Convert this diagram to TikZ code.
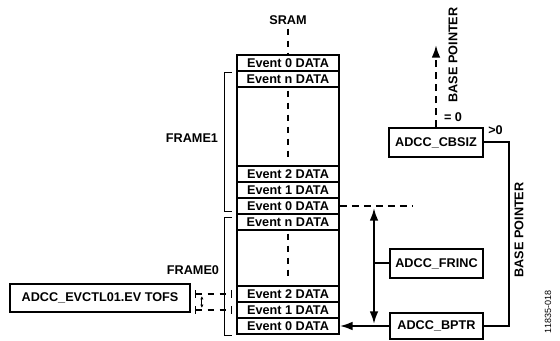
\documentclass[tikz,border=0pt]{standalone}
\usepackage{fontspec}
\setmainfont{Liberation Sans}
\usepackage{tikz}
\usetikzlibrary{arrows.meta}
\tikzset{>={Latex[length=9.5pt,width=6.5pt]}}
\newcommand{\dfont}{\fontsize{9.5pt}{11pt}\selectfont\bfseries}
\newcommand{\tagfont}{\fontsize{6.75pt}{8pt}\selectfont}
\tikzset{
	cell/.style={draw, line width=1.3pt, minimum width=76.5pt, minimum height=12pt, inner sep=0pt, font=\dfont},
	regbox/.style={draw, line width=1.3pt, minimum width=70pt, minimum height=21.75pt, inner sep=0pt, font=\dfont},
	lbl/.style={font=\dfont, inner sep=0pt},
	dline/.style={line width=1.5pt, dash pattern=on 5pt off 4pt},
	sline/.style={line width=1.5pt},
	brk/.style={line width=0.8pt},
	tick/.style={{Bar[width=6pt,line width=0.8pt]}-{Bar[width=6pt,line width=0.8pt]}}
}

\begin{document}
\begin{tikzpicture}[x=0.75pt,y=-0.75pt]
	\useasboundingbox (0,0) rectangle (560,341);

	% memory column
	\node[lbl] (sram) at (288,20) {SRAM};
	\node[draw, line width=1.6pt, minimum width=76.5pt, minimum height=209.25pt, inner sep=0pt] (col) at (288,194.5) {};
	\foreach \y/\nm/\t in {63/top0/0, 79/f1n/n, 174/f1e2/2, 190/f1e1/1, 206/f1e0/0,
			222/f0n/n, 294/f0e2/2, 310/f0e1/1, 326/f0e0/0}
		\node[cell] (\nm) at (288,\y) {Event \t\ DATA};

	\draw[dline, shorten <=3pt] (sram.south) -- (top0.north);
	\draw[dline, shorten <=2pt, shorten >=4pt] (f1n.south) -- (f1e2.north);
	\draw[dline, shorten <=2pt, shorten >=4pt] (f0n.south) -- (f0e2.north);

	% frame brackets
	\draw[brk] ([shift={(-4,2)}]f1n.north west) -- ++(-8,0) |- ([shift={(-4,-3)}]f1e0.south west);
	\draw[brk] ([shift={(-4,4)}]f0n.north west) -- ++(-8,0) |- ([shift={(-4,1)}]f0e0.south west);
	\node[lbl] (frame1) at (192,138) {FRAME1};
	\node[lbl] (frame0) at (193,270) {FRAME0};

	% event offset
	\node[regbox, minimum width=135pt, minimum height=21pt] (tofs) at (100,298) {ADCC\_EVCTL01.EV TOFS};
	\coordinate (tk) at ([xshift=3pt]tofs.east);
	\coordinate (u2) at (tk |- f0e2.west);
	\coordinate (u1) at (tk |- f0e1.west);
	\draw[dline, tick] (u2) -- ([xshift=-3pt]f0e2.west);
	\draw[dline, tick] (u1) -- ([xshift=-3pt]f0e1.west);
	\draw[{Latex[length=2.5pt,width=2.5pt]}-{Latex[length=2.5pt,width=2.5pt]}, line width=0.7pt]
		([shift={(7,2)}]u2) -- ([shift={(7,-2)}]u1);

	% registers
	\node[regbox, minimum width=70.5pt] (cbsiz) at (436,142.5) {ADCC\_CBSIZ};
	\node[regbox] (frinc) at (436.5,263.5) {ADCC\_FRINC};
	\node[regbox, minimum height=20pt] (bptr) at (436.5,326) {ADCC\_BPTR};

	\draw[dline] (f1e0.east) -- ++(73,0);
	\coordinate (fr) at (374,0);
	\draw[<->, sline, shorten <=1.5pt, shorten >=1.5pt] (fr |- f1e0.east) -- (fr |- bptr.west);
	\draw[sline] (fr |- frinc.west) -- (frinc.west);
	\draw[->, sline] (bptr.west) -- (f0e0.east);

	\draw[sline] (cbsiz.east) -- ++(25,0) |- (bptr.east);
	\node[lbl, anchor=base west] (gt) at (488,135) {>0};
	\node[lbl, rotate=90] (bp2) at (519,230) {BASE POINTER};

	\coordinate (bpup) at (0,45);
	\draw[dline, ->] (cbsiz.north) -- (cbsiz.north |- bpup);
	\node[lbl] (eq) at (453,117) {= 0};
	\node[lbl, rotate=90] (bp1) at (453,55) {BASE POINTER};

	\node[font=\tagfont, rotate=90, inner sep=0pt] (fig) at (548,312) {11835-018};
\end{tikzpicture}
\end{document}
